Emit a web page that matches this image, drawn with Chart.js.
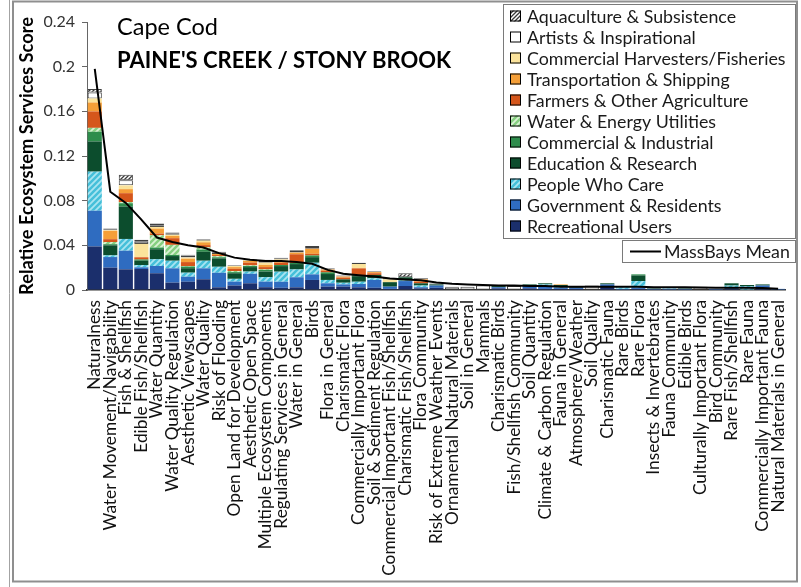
<!DOCTYPE html>
<html>
<head>
<meta charset="utf-8">
<script src="https://cdn.jsdelivr.net/npm/chart.js@4.4.1/dist/chart.umd.min.js"></script>
<style>
  html, body { margin: 0; padding: 0; background: #fff; }
  #wrap { position: relative; width: 801px; height: 587px; }
</style>
</head>
<body>
<div id="wrap"><canvas id="chart" width="801" height="587"></canvas></div>
<script>
const categories = [
  'Naturalness', 'Water Movement/Navigability', 'Fish & Shellfish', 'Edible Fish/Shellfish',
  'Water Quantity', 'Water Quality Regulation', 'Aesthetic Viewscapes', 'Water Quality',
  'Risk of Flooding', 'Open Land for Development', 'Aesthetic Open Space',
  'Multiple Ecosystem Components', 'Regulating Services in General', 'Water in General', 'Birds',
  'Flora in General', 'Charismatic Flora', 'Commercially Important Flora',
  'Soil & Sediment Regulation', 'Commercial Important Fish/Shellfish', 'Charismatic Fish/Shellfish',
  'Flora Community', 'Risk of Extreme Weather Events', 'Ornamental Natural Materials',
  'Soil in General', 'Mammals', 'Charismatic Birds', 'Fish/Shellfish Community', 'Soil Quantity',
  'Climate & Carbon Regulation', 'Fauna in General', 'Atmosphere/Weather', 'Soil Quality',
  'Charismatic Fauna', 'Rare Birds', 'Rare Flora', 'Insects & Invertebrates', 'Fauna Community',
  'Edible Birds', 'Culturally Important Flora', 'Bird Community', 'Rare Fish/Shellfish',
  'Rare Fauna', 'Commercially Important Fauna', 'Natural Materials in General'
];

// stacked from the bottom up
const recreational = [0.039, 0.020, 0.0185, 0.0188, 0.015, 0.0066, 0.0074, 0.0096, 0.0024, 0.004, 0.006, 0.0025, 0.002, 0.0024, 0.009, 0.003, 0.003, 0.0024, 0.002, 0.001, 0.0036, 0.0015, 0.002, 0, 0, 0, 0.0015, 0, 0.0015, 0.001, 0.001, 0.001, 0, 0.003, 0.0005, 0.001, 0.0005, 0.0005, 0.0005, 0, 0.0005, 0.001, 0, 0.002, 0.0005];
const government = [0.032, 0.0095, 0.0167, 0.0015, 0.0065, 0.0128, 0.0045, 0.0098, 0.013, 0.0035, 0.0085, 0.005, 0.0054, 0.009, 0.005, 0.003, 0.002, 0.003, 0.007, 0.002, 0.0044, 0.001, 0.002, 0, 0, 0, 0.001, 0, 0.0025, 0.0025, 0.001, 0.001, 0, 0.002, 0.0005, 0.001, 0.0005, 0.0005, 0.0005, 0, 0.0005, 0.001, 0.0005, 0.002, 0.0005];
const peopleWhoCare = [0.035, 0.0015, 0.0105, 0.002, 0.006, 0.0068, 0.0036, 0.0068, 0.0054, 0.0025, 0.002, 0.004, 0.009, 0.007, 0.0104, 0.003, 0.0015, 0.002, 0.0015, 0, 0.0005, 0.0015, 0, 0, 0, 0, 0, 0, 0, 0.0015, 0.0015, 0, 0, 0, 0.0015, 0.006, 0, 0.0005, 0, 0, 0, 0.002, 0.003, 0, 0];
const education = [0.027, 0.009, 0.029, 0.004, 0.009, 0.0042, 0.004, 0.008, 0.0075, 0.005, 0.004, 0.005, 0.005, 0.0048, 0.005, 0.0053, 0.003, 0.005, 0.003, 0.004, 0.0029, 0.002, 0.001, 0, 0, 0, 0.001, 0, 0.001, 0.001, 0.001, 0.001, 0, 0.001, 0.0005, 0.005, 0.0005, 0, 0.0005, 0, 0, 0.002, 0.001, 0.001, 0];
const commercialIndustrial = [0.0087, 0.001, 0.003, 0.001, 0.0015, 0.001, 0.0015, 0.002, 0.001, 0.001, 0.001, 0.0015, 0.001, 0.001, 0.0015, 0.0015, 0, 0.001, 0, 0, 0, 0, 0, 0, 0, 0, 0, 0, 0, 0, 0, 0, 0, 0, 0, 0.001, 0, 0, 0, 0, 0, 0, 0, 0, 0];
const waterEnergy = [0.0035, 0.002, 0.001, 0, 0.011, 0.009, 0.0005, 0.002, 0.001, 0.001, 0.0005, 0.0005, 0, 0, 0, 0, 0, 0, 0, 0, 0, 0, 0, 0, 0, 0, 0, 0, 0, 0, 0, 0, 0, 0, 0, 0, 0, 0, 0, 0, 0, 0, 0, 0, 0];
const farmers = [0.0147, 0.0025, 0.008, 0.002, 0.0015, 0.006, 0.0035, 0.002, 0.001, 0.002, 0.0025, 0.002, 0.002, 0.0078, 0.0015, 0.0015, 0.0015, 0.006, 0.0015, 0, 0, 0.0015, 0, 0, 0, 0, 0, 0, 0, 0, 0, 0, 0, 0, 0, 0, 0, 0, 0, 0, 0, 0, 0, 0, 0];
const transportation = [0.008, 0.0075, 0.0036, 0, 0.0045, 0.002, 0.003, 0.0025, 0.001, 0.0015, 0.0015, 0.002, 0.0015, 0.0015, 0.0045, 0.001, 0.001, 0, 0.001, 0, 0, 0.002, 0, 0, 0, 0, 0, 0, 0, 0, 0.0005, 0, 0, 0, 0, 0, 0, 0, 0, 0, 0, 0, 0, 0, 0];
const harvesters = [0.0036, 0.0005, 0.0034, 0.012, 0.0015, 0.001, 0.001, 0.0015, 0, 0.001, 0.0005, 0.002, 0.0015, 0, 0, 0, 0, 0.0039, 0, 0.0025, 0, 0, 0, 0, 0, 0, 0, 0, 0, 0, 0, 0, 0, 0, 0, 0, 0, 0, 0, 0, 0, 0, 0, 0, 0];
const artists = [0.0054, 0.0005, 0.0045, 0.0018, 0.0015, 0.001, 0.002, 0.001, 0.0015, 0.0005, 0.0005, 0.0015, 0.001, 0.0015, 0.0015, 0.001, 0.0008, 0, 0.0005, 0.001, 0, 0, 0.0005, 0.0025, 0.003, 0.004, 0, 0.0035, 0, 0, 0, 0, 0.004, 0, 0, 0, 0, 0, 0, 0.003, 0, 0, 0, 0, 0];
const aquaculture = [0.003, 0.001, 0.005, 0.0018, 0.0015, 0.001, 0.0005, 0.0005, 0.0005, 0.0005, 0.0005, 0.001, 0.0005, 0.0005, 0.001, 0.0005, 0.0005, 0.001, 0.0005, 0.0005, 0.0035, 0.001, 0.0005, 0.0005, 0, 0, 0, 0, 0, 0, 0, 0, 0, 0, 0, 0, 0, 0, 0, 0, 0, 0, 0, 0, 0];

const massBaysMean = [0.198, 0.088, 0.078, 0.063, 0.047, 0.043, 0.040, 0.038, 0.033, 0.029, 0.027, 0.026, 0.026, 0.025, 0.0235, 0.018, 0.0145, 0.0132, 0.012, 0.0102, 0.0095, 0.0088, 0.0067, 0.0055, 0.005, 0.0045, 0.004, 0.004, 0.0035, 0.0035, 0.003, 0.003, 0.003, 0.003, 0.003, 0.0028, 0.0025, 0.0025, 0.0025, 0.0022, 0.002, 0.002, 0.002, 0.0018, 0.0012];

const yMin = 0, yMax = 0.24, yStep = 0.04;

const FONT = 'Lato';
const canvas = document.getElementById('chart');
const ctx = canvas.getContext('2d');

// diagonal hatching like the Excel pattern fills
function hatch(bg, fg, size, lw) {
  const c = document.createElement('canvas');
  c.width = c.height = size;
  const g = c.getContext('2d');
  g.fillStyle = bg;
  g.fillRect(0, 0, size, size);
  g.strokeStyle = fg;
  g.lineWidth = lw;
  g.beginPath();
  g.moveTo(0, size); g.lineTo(size, 0);
  g.moveTo(-size / 2, size / 2); g.lineTo(size / 2, -size / 2);
  g.moveTo(size / 2, size * 1.5); g.lineTo(size * 1.5, size / 2);
  g.stroke();
  return ctx.createPattern(c, 'repeat');
}

const series = [
  { label: 'Recreational Users', data: recreational, color: '#1b2f6c' },
  { label: 'Government & Residents', data: government, color: '#2f6cc0' },
  { label: 'People Who Care', data: peopleWhoCare, color: hatch('#45bfd9', '#a9e5f1', 6, 1.8) },
  { label: 'Education & Research', data: education, color: '#0c4d2d' },
  { label: 'Commercial & Industrial', data: commercialIndustrial, color: '#2e8d4c' },
  { label: 'Water & Energy Utilities', data: waterEnergy, color: hatch('#86cf80', '#d9f2d4', 6, 1.8) },
  { label: 'Farmers & Other Agriculture', data: farmers, color: '#d5561b' },
  { label: 'Transportation & Shipping', data: transportation, color: '#f59f38' },
  { label: 'Commercial Harvesters/Fisheries', data: harvesters, color: '#fbe39b' },
  { label: 'Artists & Inspirational', data: artists, color: '#ffffff', border: '#404040' },
  { label: 'Aquaculture & Subsistence', data: aquaculture, color: hatch('#ffffff', '#3a3a3a', 4, 1.3), border: '#404040' }
];

const datasets = series.map(s => ({
  type: 'bar',
  label: s.label,
  data: s.data,
  backgroundColor: s.color,
  borderColor: s.border || 'rgba(0,0,0,0)',
  borderWidth: s.border ? 1 : 0,
  borderSkipped: false,
  stack: 'groups',
  order: 1,
  barPercentage: 0.91,
  categoryPercentage: 1
}));

datasets.push({
  type: 'line',
  label: 'MassBays Mean',
  data: massBaysMean,
  borderColor: '#000',
  borderWidth: 2,
  pointRadius: 0,
  tension: 0,
  stack: 'mean',
  order: 0
});

const decorations = {
  id: 'decorations',
  beforeDraw(chart) {
    const c = chart.ctx;
    c.save();
    c.strokeStyle = '#a3a3a3';
    c.lineWidth = 1;
    c.beginPath(); c.moveTo(9.5, 0); c.lineTo(9.5, 587); c.stroke();
    c.strokeStyle = '#8f8f8f';
    c.lineWidth = 2;
    c.strokeRect(13, 1.5, 784, 580);
    c.restore();
  },
  afterDraw(chart) {
    const c = chart.ctx;
    c.save();
    c.fillStyle = '#000';
    c.textBaseline = 'alphabetic';
    c.font = '23.5px ' + FONT;
    c.fillText('Cape Cod', 117, 35);
    c.font = 'bold 22px ' + FONT;
    c.fillText("PAINE'S CREEK / STONY BROOK", 117, 68);

    // group legend, top of stack first
    c.strokeStyle = '#7a7a7a';
    c.lineWidth = 1;
    c.fillStyle = '#fff';
    c.fillRect(503.5, 4.5, 292, 234);
    c.strokeRect(503.5, 4.5, 292, 234);
    c.font = '17.8px ' + FONT;
    c.textBaseline = 'middle';
    const bars = chart.data.datasets.filter(d => d.type === 'bar').slice().reverse();
    bars.forEach((d, i) => {
      const yc = 16 + 21 * i;
      c.fillStyle = d.backgroundColor;
      c.fillRect(510, yc - 5.5, 11, 11);
      c.strokeStyle = '#000';
      c.strokeRect(510.5, yc - 5, 10, 10);
      c.fillStyle = '#1a1a1a';
      c.fillText(d.label, 527, yc + 1);
    });

    // mean legend
    const mean = chart.data.datasets.find(d => d.type === 'line');
    c.fillStyle = '#fff';
    c.fillRect(622.5, 240.5, 173, 22);
    c.strokeStyle = '#7a7a7a';
    c.strokeRect(622.5, 240.5, 173, 22);
    c.strokeStyle = mean.borderColor;
    c.lineWidth = 2;
    c.beginPath(); c.moveTo(630, 251.5); c.lineTo(661, 251.5); c.stroke();
    c.fillStyle = '#1a1a1a';
    c.fillText(mean.label, 664, 252);
    c.restore();
  }
};

new Chart(canvas, {
  data: { labels: categories, datasets },
  options: {
    responsive: false,
    animation: false,
    devicePixelRatio: 1,
    layout: { padding: { left: 12, right: 11, top: 22, bottom: 8 } },
    plugins: { legend: { display: false }, tooltip: { enabled: false } },
    scales: {
      x: {
        stacked: true,
        grid: { display: false },
        border: { display: true, color: '#333', width: 1.5 },
        ticks: {
          autoSkip: false,
          minRotation: 90,
          maxRotation: 90,
          padding: 2,
          color: '#111',
          font: { family: FONT, size: 17.3 }
        },
        afterFit(scale) { scale.height = 289; }
      },
      y: {
        stacked: true,
        min: yMin,
        max: yMax,
        grid: { display: true, drawOnChartArea: false, drawTicks: true, tickLength: 5, color: '#666' },
        border: { display: true, color: '#666', width: 1 },
        ticks: {
          stepSize: yStep,
          padding: 7,
          color: '#333',
          font: { family: FONT, size: 16 },
          callback: v => String(+v.toFixed(2))
        },
        title: {
          display: true,
          text: 'Relative Ecosystem Services Score',
          color: '#000',
          font: { family: FONT, size: 18.3, weight: 'bold' },
          padding: { top: 4, bottom: 0 }
        },
        afterFit(scale) { scale.width = 75; }
      }
    }
  },
  plugins: [decorations]
});
</script>
</body>
</html>
